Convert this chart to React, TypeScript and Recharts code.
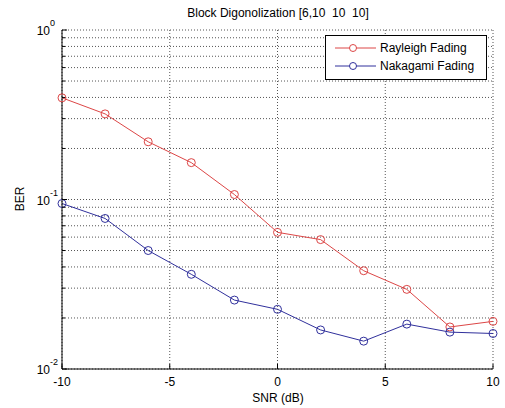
import React from 'react';
import { LineChart, Line, XAxis, YAxis, CartesianGrid } from 'recharts';

const snr = [-10, -8, -6, -4, -2, 0, 2, 4, 6, 8, 10];
const rayleigh = [0.398, 0.32, 0.219, 0.165, 0.107, 0.064, 0.058, 0.038, 0.0295, 0.0177, 0.0191];
const nakagami = [0.0947, 0.0773, 0.05, 0.0362, 0.0255, 0.0225, 0.017, 0.0146, 0.0184, 0.0165, 0.0162];
const xTicks = [-10, -5, 0, 5, 10];
const yTicks = [
  0.01, 0.02, 0.03, 0.04, 0.05, 0.06, 0.07, 0.08, 0.09,
  0.1, 0.2, 0.3, 0.4, 0.5, 0.6, 0.7, 0.8, 0.9, 1,
];
const seriesNames = ['Rayleigh Fading', 'Nakagami Fading'];
const seriesColors = ['#dc4646', '#30309c'];

const data = snr.map((s, i) => ({ snr: s, rayleigh: rayleigh[i], nakagami: nakagami[i] }));

const FONT = '"Liberation Sans", Arial, sans-serif';

const isDecade = (v: number) => Math.abs(Math.log10(v) - Math.round(Math.log10(v))) < 1e-6;

const LeftTick = (props: any) => {
  const { x, y, payload } = props;
  const v = payload.value;
  const major = isDecade(v);
  return (
    <g>
      <line x1={x} y1={y} x2={x + (major ? 5 : 3)} y2={y} stroke="#000" />
      {major && (
        <>
          <text x={x - 12} y={y + 5} textAnchor="end" fontSize={12} fill="#000" fontFamily={FONT}>10</text>
          <text x={x - 12} y={y - 4} textAnchor="start" fontSize={9} fill="#000" fontFamily={FONT}>
            {Math.round(Math.log10(v))}
          </text>
        </>
      )}
    </g>
  );
};

const RightTick = (props: any) => {
  const { x, y, payload } = props;
  const major = isDecade(payload.value);
  return <line x1={x} y1={y} x2={x - (major ? 5 : 3)} y2={y} stroke="#000" />;
};

const BottomTick = (props: any) => {
  const { x, y, payload } = props;
  return (
    <g>
      <line x1={x} y1={y} x2={x} y2={y - 5} stroke="#000" />
      <text x={x} y={y + 17} textAnchor="middle" fontSize={12} fill="#000" fontFamily={FONT}>
        {payload.value}
      </text>
    </g>
  );
};

const TopTick = (props: any) => {
  const { x, y } = props;
  return <line x1={x} y1={y} x2={x} y2={y + 5} stroke="#000" />;
};

export default function App() {
  return (
    <div style={{ position: 'absolute', left: 0, top: 0, width: 505, height: 408, background: '#fff', fontFamily: FONT }}>
      <LineChart width={505} height={408} data={data} margin={{ top: 30, right: 12, left: 0, bottom: 0 }}>
        <CartesianGrid stroke="#555" strokeDasharray="1 2" />
        <XAxis
          dataKey="snr"
          type="number"
          domain={[-10, 10]}
          ticks={xTicks}
          height={39}
          tickLine={false}
          tickSize={0}
          tickMargin={0}
          tick={<BottomTick />}
          axisLine={{ stroke: '#000' }}
        />
        <XAxis
          xAxisId="top"
          orientation="top"
          type="number"
          domain={[-10, 10]}
          ticks={xTicks}
          height={0}
          tickLine={false}
          tickSize={0}
          tickMargin={0}
          tick={<TopTick />}
          axisLine={{ stroke: '#000' }}
        />
        <YAxis
          scale="log"
          type="number"
          domain={[0.01, 1]}
          allowDataOverflow
          ticks={yTicks}
          width={62}
          tickLine={false}
          tickSize={0}
          tickMargin={0}
          tick={<LeftTick />}
          axisLine={{ stroke: '#000' }}
          interval={0}
        />
        <YAxis
          yAxisId="right"
          orientation="right"
          scale="log"
          type="number"
          domain={[0.01, 1]}
          allowDataOverflow
          ticks={yTicks}
          width={0}
          tickLine={false}
          tickSize={0}
          tickMargin={0}
          tick={<RightTick />}
          axisLine={{ stroke: '#000' }}
          interval={0}
        />
        <Line
          dataKey="rayleigh"
          name={seriesNames[0]}
          stroke={seriesColors[0]}
          strokeWidth={1}
          dot={{ r: 4, fill: 'none', stroke: seriesColors[0], strokeWidth: 1 }}
          isAnimationActive={false}
        />
        <Line
          dataKey="nakagami"
          name={seriesNames[1]}
          stroke={seriesColors[1]}
          strokeWidth={1}
          dot={{ r: 4, fill: 'none', stroke: seriesColors[1], strokeWidth: 1 }}
          isAnimationActive={false}
        />
      </LineChart>

      <div style={{ position: 'absolute', left: 0, width: 556, top: 6, textAlign: 'center', fontSize: 12, whiteSpace: 'pre', color: '#000' }}>
        Block Digonolization [6,10  10  10]
      </div>
      <div style={{ position: 'absolute', left: 0, width: 556, top: 391, textAlign: 'center', fontSize: 12, color: '#000' }}>
        SNR (dB)
      </div>
      <div
        style={{
          position: 'absolute',
          left: 20,
          top: 199,
          transform: 'translate(-50%, -50%) rotate(-90deg)',
          fontSize: 12,
          color: '#000',
        }}
      >
        BER
      </div>

      <div
        style={{
          position: 'absolute',
          left: 325,
          top: 35,
          width: 160,
          height: 43,
          border: '1px solid #000',
          background: '#fff',
          fontSize: 12,
          color: '#000',
        }}
      >
        {seriesNames.map((n, i) => (
          <div key={n} style={{ display: 'flex', alignItems: 'center', height: 18, marginTop: i === 0 ? 3 : 0 }}>
            <svg width={54} height={18}>
              <line x1={9} y1={9} x2={50} y2={9} stroke={seriesColors[i]} />
              <circle cx={27} cy={9} r={3.5} fill="#fff" stroke={seriesColors[i]} />
            </svg>
            <span>{n}</span>
          </div>
        ))}
      </div>
    </div>
  );
}
